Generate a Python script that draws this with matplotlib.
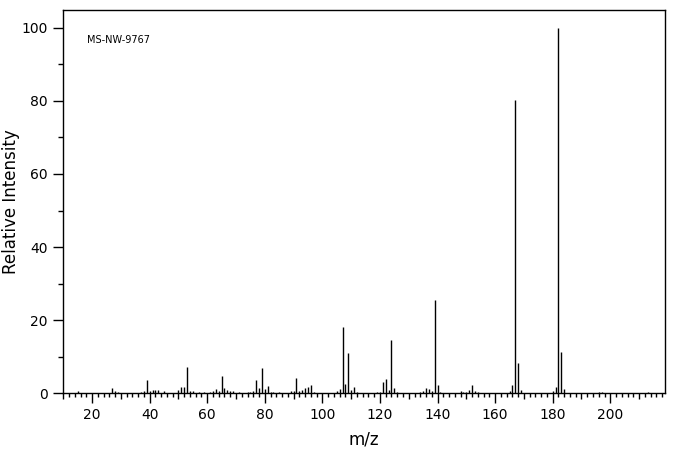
import numpy as np
import matplotlib.pyplot as plt

# peak list
mz = [15, 27, 28, 29, 37, 38, 39, 40, 41, 42, 43, 45,
      50, 51, 52, 53, 54, 55, 57, 59, 61, 62, 63, 64, 65, 66, 67, 68, 69, 71,
      74, 75, 76, 77, 78, 79, 80, 81, 82, 83, 85, 87,
      89, 90, 91, 92, 93, 94, 95, 96, 97,
      105, 106, 107, 108, 109, 110, 111, 112,
      119, 120, 121, 122, 123, 124, 125, 126,
      134, 135, 136, 137, 138, 139, 140, 141,
      148, 149, 150, 151, 152, 153, 154,
      165, 166, 167, 168, 169,
      180, 181, 182, 183, 184,
      196, 197, 213]
intensity = [0.5, 1.5, 0.6, 0.3, 0.4, 0.6, 3.7, 0.6, 1.0, 0.8, 1.0, 0.5,
             0.8, 1.7, 1.7, 7.1, 0.6, 0.5, 0.4, 0.3, 0.3, 0.5, 1.2, 0.6, 4.6, 1.5, 0.9, 0.6, 0.6, 0.4,
             0.4, 0.4, 0.5, 3.7, 1.4, 6.9, 1.1, 2.1, 0.4, 0.3, 0.4, 0.2,
             0.5, 0.5, 4.2, 0.6, 1.0, 1.5, 1.6, 2.3, 0.4,
             0.5, 1.2, 18.2, 2.6, 11.1, 0.8, 1.6, 0.4,
             0.4, 0.4, 3.1, 3.9, 0.9, 14.6, 1.4, 0.4,
             0.4, 0.7, 1.5, 1.2, 0.6, 25.6, 2.3, 0.4,
             0.5, 0.4, 0.4, 0.9, 2.3, 0.6, 0.3,
             0.6, 2.3, 80.3, 8.3, 0.9,
             0.5, 1.7, 100.0, 11.3, 1.2,
             0.4, 0.4, 0.3]
sample_id = "MS-NW-9767"

fig = plt.figure(figsize=(6.76, 4.55), dpi=100)
ax = fig.add_axes([0.0936, 0.1356, 0.8901, 0.8435])

ax.vlines(mz, 0, intensity, color='black', linewidth=1.0)

ax.set_xlim(10, 219)
ax.set_ylim(0, 105)

for s in ax.spines.values():
    s.set_linewidth(1.0)

# x ticks: long at 20s, medium at odd 10s, short every 2
xt = np.arange(10, 220, 10)
ax.set_xticks(xt)
ax.set_xticklabels([str(v) if v % 20 == 0 else '' for v in xt])
ax.set_xticks(np.arange(10, 219, 2), minor=True)
ax.tick_params(axis='x', which='major', direction='out', length=7.2, width=1.0,
               pad=3.5, labelsize=10)
ax.tick_params(axis='x', which='minor', direction='out', length=2.9, width=1.0)
for tick, loc in zip(ax.xaxis.get_major_ticks(), xt):
    if loc % 20:
        tick.tick1line.set_markersize(4.3)

ax.set_yticks(np.arange(0, 101, 20))
ax.set_yticks(np.arange(10, 101, 20), minor=True)
ax.tick_params(axis='y', which='major', direction='out', length=7.2, width=1.0,
               pad=4, labelsize=10)
ax.tick_params(axis='y', which='minor', direction='out', length=3.6, width=1.0)

ax.set_xlabel('m/z', fontsize=12, labelpad=6)
ax.set_ylabel('Relative Intensity', fontsize=12)
ax.yaxis.set_label_coords(-0.072, 0.5)

ax.text(0.039, 0.92, sample_id, transform=ax.transAxes, fontsize=7,
        ha='left', va='center')

fig.savefig('out.png', dpi=100)
